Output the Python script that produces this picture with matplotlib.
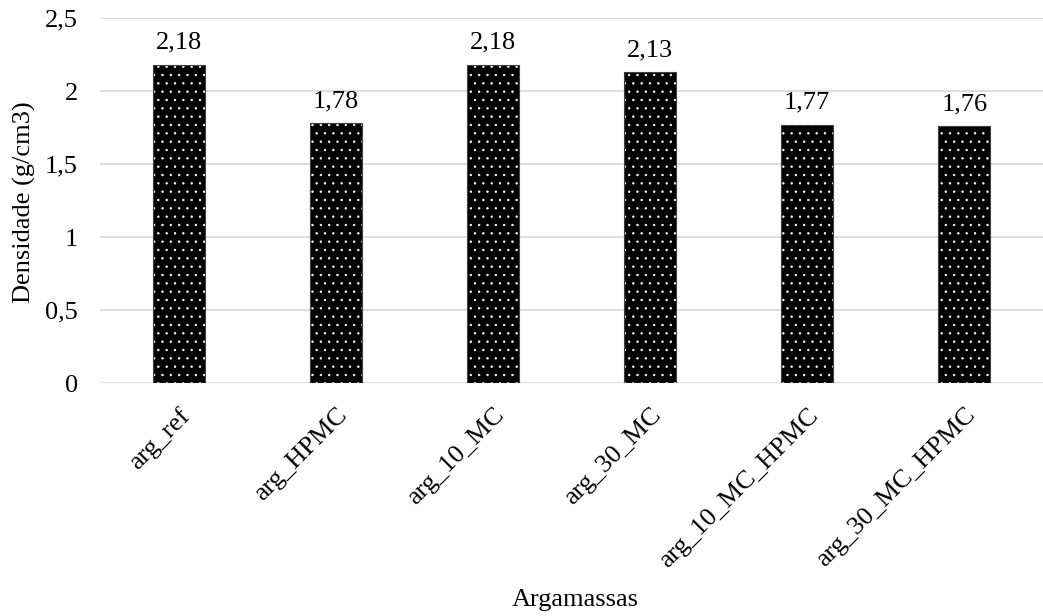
import matplotlib
matplotlib.use("Agg")
import matplotlib.pyplot as plt

categories = ["arg_ref", "arg_HPMC", "arg_10_MC", "arg_30_MC", "arg_10_MC_HPMC", "arg_30_MC_HPMC"]
values = [2.18, 1.78, 2.18, 2.13, 1.77, 1.76]
yticks = [0, 0.5, 1, 1.5, 2, 2.5]
ytick_labels = ["0", "0,5", "1", "1,5", "2", "2,5"]

plt.rcParams['font.family'] = ['Liberation Serif', 'DejaVu Serif']
plt.rcParams['hatch.linewidth'] = 0.5

FS = 19

fig = plt.figure(figsize=(10.43, 6.16), dpi=100)
ax = fig.add_axes([100/1043, 232.7/616, 943/1043, 365/616])

x = list(range(len(categories)))
ax.bar(x, values, width=0.33, color='black', edgecolor='white', linewidth=0, hatch='..', zorder=3)
ax.bar(x, values, width=0.33, facecolor='none', edgecolor='#404040', linewidth=0.8, zorder=4)

for xi, v in zip(x, values):
    ax.annotate(f"{v:.2f}".replace('.', ','), (xi, v), xytext=(0, 8), textcoords='offset points',
                ha='center', va='bottom', fontsize=FS)

ax.set_xlim(-0.5, 5.5)
ax.set_ylim(0, 2.5)
ax.set_yticks(yticks)
ax.set_yticklabels(ytick_labels, fontsize=FS)
ax.set_xticks(x)
ax.set_xticklabels(categories, rotation=45, ha='right', rotation_mode='anchor', fontsize=FS)
ax.tick_params(axis='both', length=0)
ax.tick_params(axis='y', pad=16)
ax.tick_params(axis='x', pad=15)
ax.grid(axis='y', color='#d9d9d9', linewidth=1.3, zorder=0)
for s in ax.spines.values():
    s.set_visible(False)

fig.text(24/1043, 1 - 202/616, "Densidade (g/cm3)", rotation=90, ha='center', va='center', fontsize=FS)
fig.text(575/1043, 1 - 600/616, "Argamassas", ha='center', va='center', fontsize=FS)

fig.savefig("out.png", dpi=100)
